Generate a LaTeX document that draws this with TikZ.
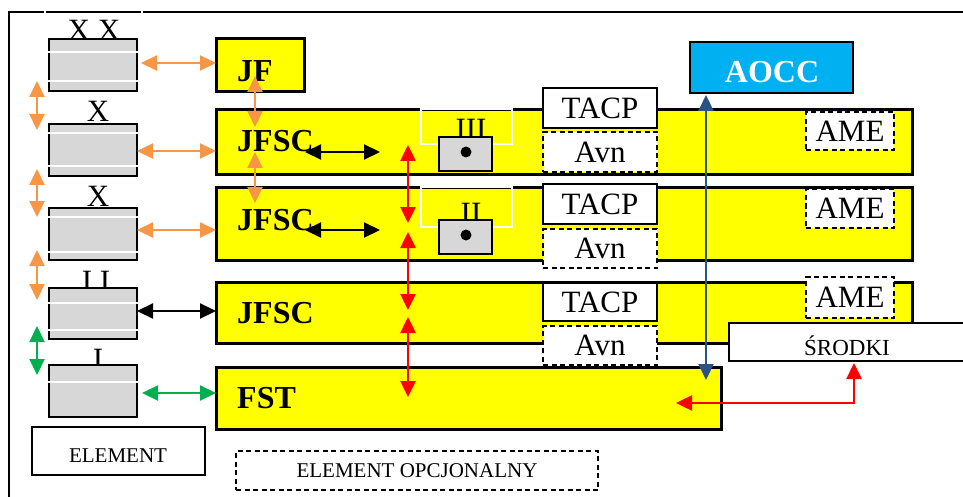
\documentclass[tikz,border=0pt]{standalone}
\usepackage{fontspec}
\setmainfont{Liberation Serif}
\usetikzlibrary{arrows.meta}
\definecolor{ylw}{RGB}{255,255,0}
\definecolor{gry}{RGB}{215,215,215}
\definecolor{org}{RGB}{247,150,70}
\definecolor{grn}{RGB}{0,176,80}
\definecolor{cyn}{RGB}{0,176,240}
\definecolor{blu}{RGB}{44,82,130}
\definecolor{rd}{RGB}{255,0,0}
\begin{document}
\begin{tikzpicture}[x=1pt,y=-1pt,
 box/.style={anchor=north west, inner sep=0, outer sep=0},
 ybox/.style={box, draw=black, fill=ylw, line width=3pt},
 gbox/.style={box, draw=black, fill=gry, line width=2pt},
 wbox/.style={box, draw=black, fill=white, line width=1.8pt},
 dbox/.style={box, draw=black, fill=white, line width=1.8pt, dash pattern=on 5pt off 3.5pt},
 hbox/.style={box, draw=white, line width=1.2pt},
 reg/.style={font=\fontsize{31}{31}\selectfont, inner sep=0},
 bld/.style={font=\fontsize{32}{32}\selectfont\bfseries, inner sep=0},
 sml/.style={font=\fontsize{21}{21}\selectfont, inner sep=0},
 tip/.style={{Triangle[length=16pt,width=15pt]}-{Triangle[length=16pt,width=15pt]}},
 oar/.style={tip, draw=org, line width=2.2pt},
 gar/.style={tip, draw=grn, line width=2.2pt},
 kar/.style={tip, draw=black, line width=2.2pt},
 rar/.style={tip, draw=rd, line width=2.5pt},
 bar/.style={tip, draw=blu, line width=2.2pt},
 wl/.style={draw=white, line width=1.2pt}
]
\useasboundingbox (0,0) rectangle (963,497);
\clip (0,0) rectangle (963,497);
\fill[white] (0,0) rectangle (963,497);
% frame
\draw[line width=1.5pt] (9,497) -- (9,12) -- (963,12);
\draw[white, line width=1.5pt] (45,10) -- (45,14) (142,10) -- (142,14);

% left grey stack labels (behind boxes)
\node[reg] (lxx) at (94,30) {X X};
\node[reg] (lx1) at (98,111) {X};
\node[reg] (lx2) at (98,196) {X};
\node[reg] (lii) at (96,281) {I I};
\node[reg] (li) at (98,359) {I};

% grey boxes
\node[gbox, minimum width=88pt, minimum height=52pt] (bxx) at (49,39) {};
\node[gbox, minimum width=88pt, minimum height=52pt] (bx1) at (49,124) {};
\node[gbox, minimum width=88pt, minimum height=52pt] (bx2) at (49,208) {};
\node[gbox, minimum width=88pt, minimum height=51pt] (bii) at (49,288) {};
\node[gbox, minimum width=88pt, minimum height=52pt] (bi) at (49,365) {};
\draw[wl] (47,52) -- (139,52) (47,81) -- (139,81);
\draw[wl] (47,133) -- (139,133) (47,166) -- (139,166);
\draw[wl] (47,217) -- (139,217) (47,252) -- (139,252);
\draw[wl] (47,303) -- (139,303) (47,330) -- (139,330);
\draw[wl] (47,382) -- (139,382);

% legend boxes
\node[wbox, minimum width=173pt, minimum height=48pt] (elem) at (32,427) {};
\node[sml] (elemt) at (118,456) {ELEMENT};
\node[dbox, minimum width=362pt, minimum height=39pt] (opc) at (236,451) {};
\node[sml] (opct) at (417,470.5) {ELEMENT OPCJONALNY};

% yellow boxes
\node[ybox, minimum width=88pt, minimum height=53pt] (jf) at (216,39) {};
\node[ybox, minimum width=696pt, minimum height=65pt] (jfsc1) at (216,110) {};
\node[ybox, minimum width=696pt, minimum height=72pt] (jfsc2) at (216,188) {};
\node[ybox, minimum width=696pt, minimum height=61pt] (jfsc3) at (216,282) {};
\node[ybox, minimum width=505pt, minimum height=62pt] (fst) at (216,367) {};

% white outline rects and III / II
\node[hbox, minimum width=91pt, minimum height=35pt] (h3) at (421,109) {};
\node[hbox, minimum width=91pt, minimum height=40pt] (h2) at (421,187) {};
\node[reg, anchor=base] (l3) at (471,140) {III};
\node[reg, anchor=base] (l2) at (471,223) {II};
\node[gbox, minimum width=53pt, minimum height=34pt] (g3) at (439,137) {};
\node[gbox, minimum width=53pt, minimum height=34pt] (g2) at (439,220) {};
\fill (466,152) circle (5.5pt);
\fill (466,235) circle (5.5pt);

% TACP / Avn
\node[wbox, minimum width=114pt, minimum height=40pt] (t1) at (543,88) {};
\node[reg] at (t1.center) {TACP};
\node[dbox, minimum width=114pt, minimum height=40pt] (a1) at (543,132) {};
\node[reg] at (a1.center) {Avn};
\node[wbox, minimum width=114pt, minimum height=40pt] (t2) at (543,184) {};
\node[reg] at (t2.center) {TACP};
\node[dbox, minimum width=114pt, minimum height=39pt] (a2) at (543,229) {};
\node[reg] at (a2.center) {Avn};
\node[wbox, minimum width=114pt, minimum height=38pt] (t3) at (543,283) {};
\node[reg] at (t3.center) {TACP};
\node[dbox, minimum width=114pt, minimum height=39pt] (a3) at (543,326) {};
\node[reg] at (a3.center) {Avn};

% AME
\node[dbox, minimum width=88pt, minimum height=38pt] (m1) at (806,112) {};
\node[reg] at (m1.center) {AME};
\node[dbox, minimum width=88pt, minimum height=39pt] (m2) at (806,189) {};
\node[reg] at (m2.center) {AME};
\node[dbox, minimum width=88pt, minimum height=41pt] (m3) at (806,277) {};
\node[reg] at (m3.center) {AME};

% SRODKI
\node[wbox, minimum width=246pt, minimum height=38pt] (sr) at (729,323) {};
\node[font=\fontsize{23}{23}\selectfont, inner sep=0, anchor=base] (srt) at (847,355) {ŚRODKI};

% AOCC
\node[box, draw=black, fill=cyn, line width=1.5pt, minimum width=163pt, minimum height=51pt] (aocc) at (690,42) {};
\node[bld, text=white, anchor=base] (aocct) at (772,83) {AOCC};

% yellow box labels
\node[bld, anchor=base west] (jft) at (237,82) {JF};
\node[bld, anchor=base west] (j1t) at (237,152) {JFSC};
\node[bld, anchor=base west] (j2t) at (237,230) {JFSC};
\node[bld, anchor=base west] (j3t) at (237,323) {JFSC};
\node[bld, anchor=base west] (fstt) at (237,408) {FST};

% coordinates
\coordinate (hxx) at (141,63);
\coordinate (hx1) at (137,151);
\coordinate (hx2) at (137,230);
\coordinate (hii) at (137,311);
\coordinate (hi) at (142,393);
\coordinate (v1a) at (37,81);  \coordinate (v1b) at (37,130);
\coordinate (v2a) at (37,169); \coordinate (v2b) at (37,217);
\coordinate (v3a) at (37,250); \coordinate (v3b) at (37,300);
\coordinate (v4a) at (37,326); \coordinate (v4b) at (37,375);
\coordinate (o1a) at (255,76);  \coordinate (o1b) at (255,127);
\coordinate (o2a) at (255,152); \coordinate (o2b) at (255,203);
\coordinate (k1a) at (305,152); \coordinate (k1b) at (380,152);
\coordinate (k2a) at (305,230); \coordinate (k2b) at (380,230);
\coordinate (r1a) at (408,145); \coordinate (r1b) at (408,223);
\coordinate (r2a) at (408,232); \coordinate (r2b) at (408,310);
\coordinate (r3a) at (408,317); \coordinate (r3b) at (408,397);
\coordinate (bla) at (706,95);  \coordinate (blb) at (706,380);
\coordinate (rsa) at (854,363); \coordinate (rsb) at (676,403);

% arrows
\draw[oar] (hxx) -- (hxx -| jf.west);
\draw[oar] (hx1) -- (hx1 -| jfsc1.west);
\draw[oar] (hx2) -- (hx2 -| jfsc2.west);
\draw[kar] (hii) -- (hii -| jfsc3.west);
\draw[gar] (hi) -- (hi -| fst.west);
\draw[oar] (v1a) -- (v1b);
\draw[oar] (v2a) -- (v2b);
\draw[oar] (v3a) -- (v3b);
\draw[gar] (v4a) -- (v4b);
\draw[oar] (o1a) -- (o1b);
\draw[oar] (o2a) -- (o2b);
\draw[kar] (k1a) -- (k1b);
\draw[kar] (k2a) -- (k2b);
\draw[rar] (r1a) -- (r1b);
\draw[rar] (r2a) -- (r2b);
\draw[rar] (r3a) -- (r3b);
\draw[bar] (bla) -- (blb);
\draw[rar] (rsa) |- (rsb);
\end{tikzpicture}
\end{document}
